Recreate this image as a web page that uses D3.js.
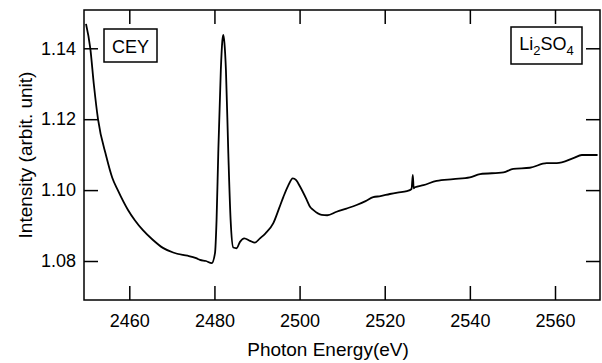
<!DOCTYPE html>
<html>
<head>
<meta charset="utf-8">
<script src="https://cdn.jsdelivr.net/npm/d3@7"></script>
<style>
  html, body { margin: 0; padding: 0; background: #fff; }
  svg { display: block; font-family: "Liberation Sans", Arial, sans-serif; }
</style>
</head>
<body>
<svg id="chart" width="602" height="363"></svg>
<script>
const energies = [
  2449.83, 2450.84, 2451.7, 2452.65, 2454.6, 2456.0, 2457.3, 2459.7, 2461.3, 2463.2,
  2465.5, 2467.9, 2470.3, 2472.6, 2474.0, 2475.7, 2476.6, 2478.0, 2479.36, 2480.13,
  2480.5, 2480.9, 2481.5, 2481.85, 2482.08, 2482.35, 2482.7, 2483.26, 2483.8, 2484.43,
  2485.2, 2486.0, 2487.0, 2488.35, 2489.5, 2490.7, 2492.0, 2493.8, 2495.2, 2496.2,
  2497.3, 2498.4, 2499.2, 2500.1, 2501.7, 2502.45, 2503.2, 2505.2, 2506.5, 2508.7,
  2511.0, 2513.4, 2515.5, 2517.3, 2519.0, 2521.2, 2523.0, 2525.2, 2526.3, 2526.6,
  2526.8, 2527.1, 2529.1, 2532.2, 2536.1, 2540.0, 2542.4, 2547.9, 2550.2, 2554.1,
  2558.05, 2560.4, 2564.3, 2566.3, 2570.0
];
const intensities = [
  1.1469, 1.1400, 1.1295, 1.1200, 1.1095, 1.1035, 1.1000, 1.0944, 1.0915, 1.0887,
  1.0860, 1.0837, 1.0824, 1.0817, 1.0814, 1.0808, 1.0803, 1.0800, 1.0794, 1.0822,
  1.0916, 1.1104, 1.1339, 1.1420, 1.1438, 1.1415, 1.1339, 1.1104, 1.0916, 1.0838,
  1.0836, 1.0854, 1.0864, 1.0857, 1.0852, 1.0864, 1.0878, 1.0906, 1.0949, 1.0981,
  1.1012, 1.1033, 1.1028, 1.1010, 1.0972, 1.0953, 1.0944, 1.0930, 1.0929, 1.0939,
  1.0948, 1.0958, 1.0969, 1.0980, 1.0983, 1.0989, 1.0993, 1.0997, 1.1003, 1.1043,
  1.1005, 1.1008, 1.1014, 1.1026, 1.1031, 1.1036, 1.1045, 1.1050, 1.1060, 1.1063,
  1.1076, 1.1076, 1.1090, 1.1099, 1.1099
];
const xTicks = [2460, 2480, 2500, 2520, 2540, 2560];
const yTicks = [1.08, 1.10, 1.12, 1.14];
const xTitle = "Photon Energy(eV)";
const yTitle = "Intensity (arbit. unit)";
const leftLabel = "CEY";

const svg = d3.select("#chart");
const L = 84, R = 600, T = 10, B = 300;
const x = d3.scaleLinear().domain([2449.36, 2570.57]).range([L, R]);
const y = d3.scaleLinear().domain([1.069, 1.1508]).range([B, T]);
const tickLen = 14;

// axes (ticks inward)
const gx = svg.append("g").attr("transform", `translate(0,${B})`)
  .call(d3.axisBottom(x).tickValues(xTicks).tickFormat(d3.format("d")).tickSizeInner(-tickLen).tickSizeOuter(0).tickPadding(14));
const gxTop = svg.append("g").attr("transform", `translate(0,${T})`)
  .call(d3.axisTop(x).tickValues(xTicks).tickFormat("").tickSizeInner(-tickLen).tickSizeOuter(0));
const gy = svg.append("g").attr("transform", `translate(${L},0)`)
  .call(d3.axisLeft(y).tickValues(yTicks).tickFormat(d3.format(".2f")).tickSizeInner(-tickLen).tickSizeOuter(0).tickPadding(8));
const gyR = svg.append("g").attr("transform", `translate(${R},0)`)
  .call(d3.axisRight(y).tickValues(yTicks).tickFormat("").tickSizeInner(-tickLen).tickSizeOuter(0));

[gx, gxTop, gy, gyR].forEach(g => {
  g.select(".domain").remove();
  g.selectAll(".tick line").attr("stroke", "#000").attr("stroke-width", 1.5);
  g.selectAll(".tick text").attr("fill", "#000").attr("font-size", 18)
    .attr("font-family", "Liberation Sans, Arial, sans-serif");
});

// frame
svg.append("rect").attr("x", L).attr("y", T).attr("width", R - L).attr("height", B - T)
  .attr("fill", "none").attr("stroke", "#000").attr("stroke-width", 1.5);

// data line
const data = energies.map((e, i) => [e, intensities[i]]);
svg.append("path").datum(data)
  .attr("fill", "none").attr("stroke", "#000").attr("stroke-width", 1.8)
  .attr("stroke-linejoin", "round")
  .attr("d", d3.line().x(d => x(d[0])).y(d => y(d[1])).curve(d3.curveMonotoneX));

// titles
svg.append("text").attr("x", (L + R) / 2 - 14).attr("y", 356).attr("text-anchor", "middle")
  .attr("font-size", 19).attr("fill", "#000").text(xTitle);
svg.append("text").attr("transform", `translate(32,${(T + B) / 2}) rotate(-90)`)
  .attr("text-anchor", "middle").attr("font-size", 19).attr("fill", "#000").text(yTitle);

// CEY box
svg.append("rect").attr("x", 104).attr("y", 29).attr("width", 53).attr("height", 33)
  .attr("fill", "#fff").attr("stroke", "#000").attr("stroke-width", 1.5);
svg.append("text").attr("x", 130.5).attr("y", 52.5).attr("text-anchor", "middle")
  .attr("font-size", 18).attr("fill", "#000").text(leftLabel);

// Li2SO4 box
svg.append("rect").attr("x", 511).attr("y", 27).attr("width", 71).attr("height", 37)
  .attr("fill", "#fff").attr("stroke", "#000").attr("stroke-width", 1.5);
const t = svg.append("text").attr("x", 546.5).attr("y", 50).attr("text-anchor", "middle")
  .attr("font-size", 18).attr("fill", "#000");
t.append("tspan").text("Li");
t.append("tspan").attr("font-size", 13).attr("dy", 5).text("2");
t.append("tspan").attr("dy", -5).text("SO");
t.append("tspan").attr("font-size", 13).attr("dy", 5).text("4");
</script>
</body>
</html>
